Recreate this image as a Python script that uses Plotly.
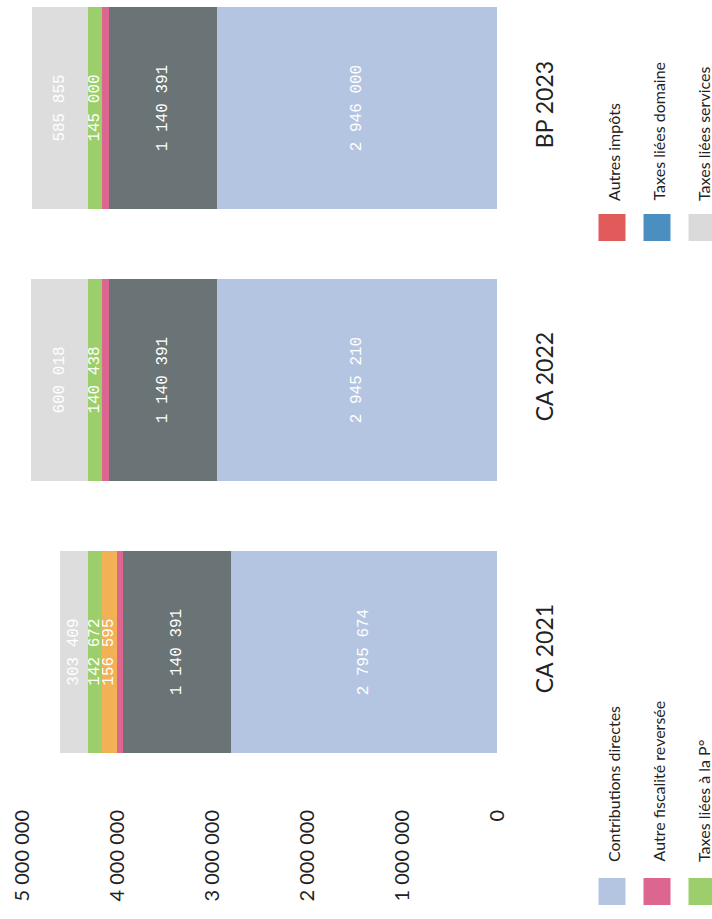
import plotly.graph_objects as go

# ---------------- data ----------------
categories = ["CA 2021", "CA 2022", "BP 2023"]
contributions_directes = [2795674, 2945210, 2946000]
attribution_compensation = [1140391, 1140391, 1140391]
autre_fiscalite_reversee = [65000, 75000, 75000]
taxes_additionnelles = [156595, None, None]
taxes_liees_p = [142672, 140438, 145000]
taxes_liees_services = [303409, 600018, 585855]

tick_values = [0, 1000000, 2000000, 3000000, 4000000, 5000000]

legend_col1 = ["Contributions directes", "Autre fiscalité reversée", "Taxes liées à la P°"]
legend_col1_colors = ["#b4c5e2", "#dc6690", "#9ccf6c"]
legend_col2 = ["Autres impôts", "Taxes liées domaine", "Taxes liées services"]
legend_col2_colors = ["#e25b5b", "#4b8ec0", "#d9dad9"]

# ---------------- styles ----------------
W, H = 712, 919
L, R = 22, 497          # pixel positions of 5 000 000 and 0
T, B = 0, 800           # plot top / bottom
LABEL_FONT = dict(family="Liberation Mono", size=16, color="white")

series = [
    ("Contributions directes", contributions_directes, "#b4c5e2", True),
    ("Attribution de compensation", attribution_compensation, "#6a7375", True),
    ("Autre fiscalité reversée", autre_fiscalite_reversee, "#dc6690", False),
    ("Taxes additionnelles", taxes_additionnelles, "#f2b155", True),
    ("Taxes liées à la P°", taxes_liees_p, "#9ccf6c", True),
    ("Taxes liées services", taxes_liees_services, "#dcdddc", True),
]

fig = go.Figure()
for name, vals, color, show_text in series:
    fig.add_trace(go.Bar(
        y=categories, x=vals, name=name, orientation="h",
        marker=dict(color=color, line=dict(width=0)),
        texttemplate="%{x:,.0f}" if show_text else "",
        textposition="inside", insidetextanchor="middle",
        textangle=-90, textfont=LABEL_FONT,
        showlegend=False,
    ))

def px2x(px):
    return (px - L) / (R - L)

def px2y(py):
    return (B - py) / (B - T)

shapes, annotations = [], []
row_centers = [612, 657, 702]
SQ = 27
for names, colors, sq_top, text_start in [
    (legend_col1, legend_col1_colors, 878, 864),
    (legend_col2, legend_col2_colors, 214, 203),
]:
    for name, color, cx in zip(names, colors, row_centers):
        shapes.append(dict(type="rect", xref="paper", yref="paper",
                           x0=px2x(cx - SQ / 2), x1=px2x(cx + SQ / 2),
                           y0=px2y(sq_top + SQ), y1=px2y(sq_top),
                           fillcolor=color, line=dict(width=0)))
        annotations.append(dict(xref="paper", yref="paper",
                                x=px2x(cx + 1), y=px2y(text_start),
                                xanchor="center", yanchor="bottom",
                                text=name, showarrow=False, textangle=-90,
                                font=dict(family="Lato", size=16, color="#222")))

fig.update_layout(
    width=W, height=H,
    margin=dict(l=L, r=W - R, t=T, b=H - B, pad=0),
    barmode="stack", bargap=0.257,
    plot_bgcolor="white", paper_bgcolor="white",
    separators=", ",
    showlegend=False,
    uniformtext=dict(mode="show", minsize=16),
    shapes=shapes, annotations=annotations,
    xaxis=dict(range=[5000000, 0], tickvals=tick_values, tickformat=",.0f",
               tickangle=-90, showgrid=False, zeroline=False, showline=False,
               ticks="", ticklabelstandoff=5,
               tickfont=dict(family="Lato", size=20, color="#222")),
    yaxis=dict(side="right", range=[-0.544, 2.397], tickangle=-90,
               showgrid=False, zeroline=False, showline=False, ticks="",
               ticklabelstandoff=32,
               tickfont=dict(family="Lato", size=23, color="#222")),
)

fig.write_html("out.html")
